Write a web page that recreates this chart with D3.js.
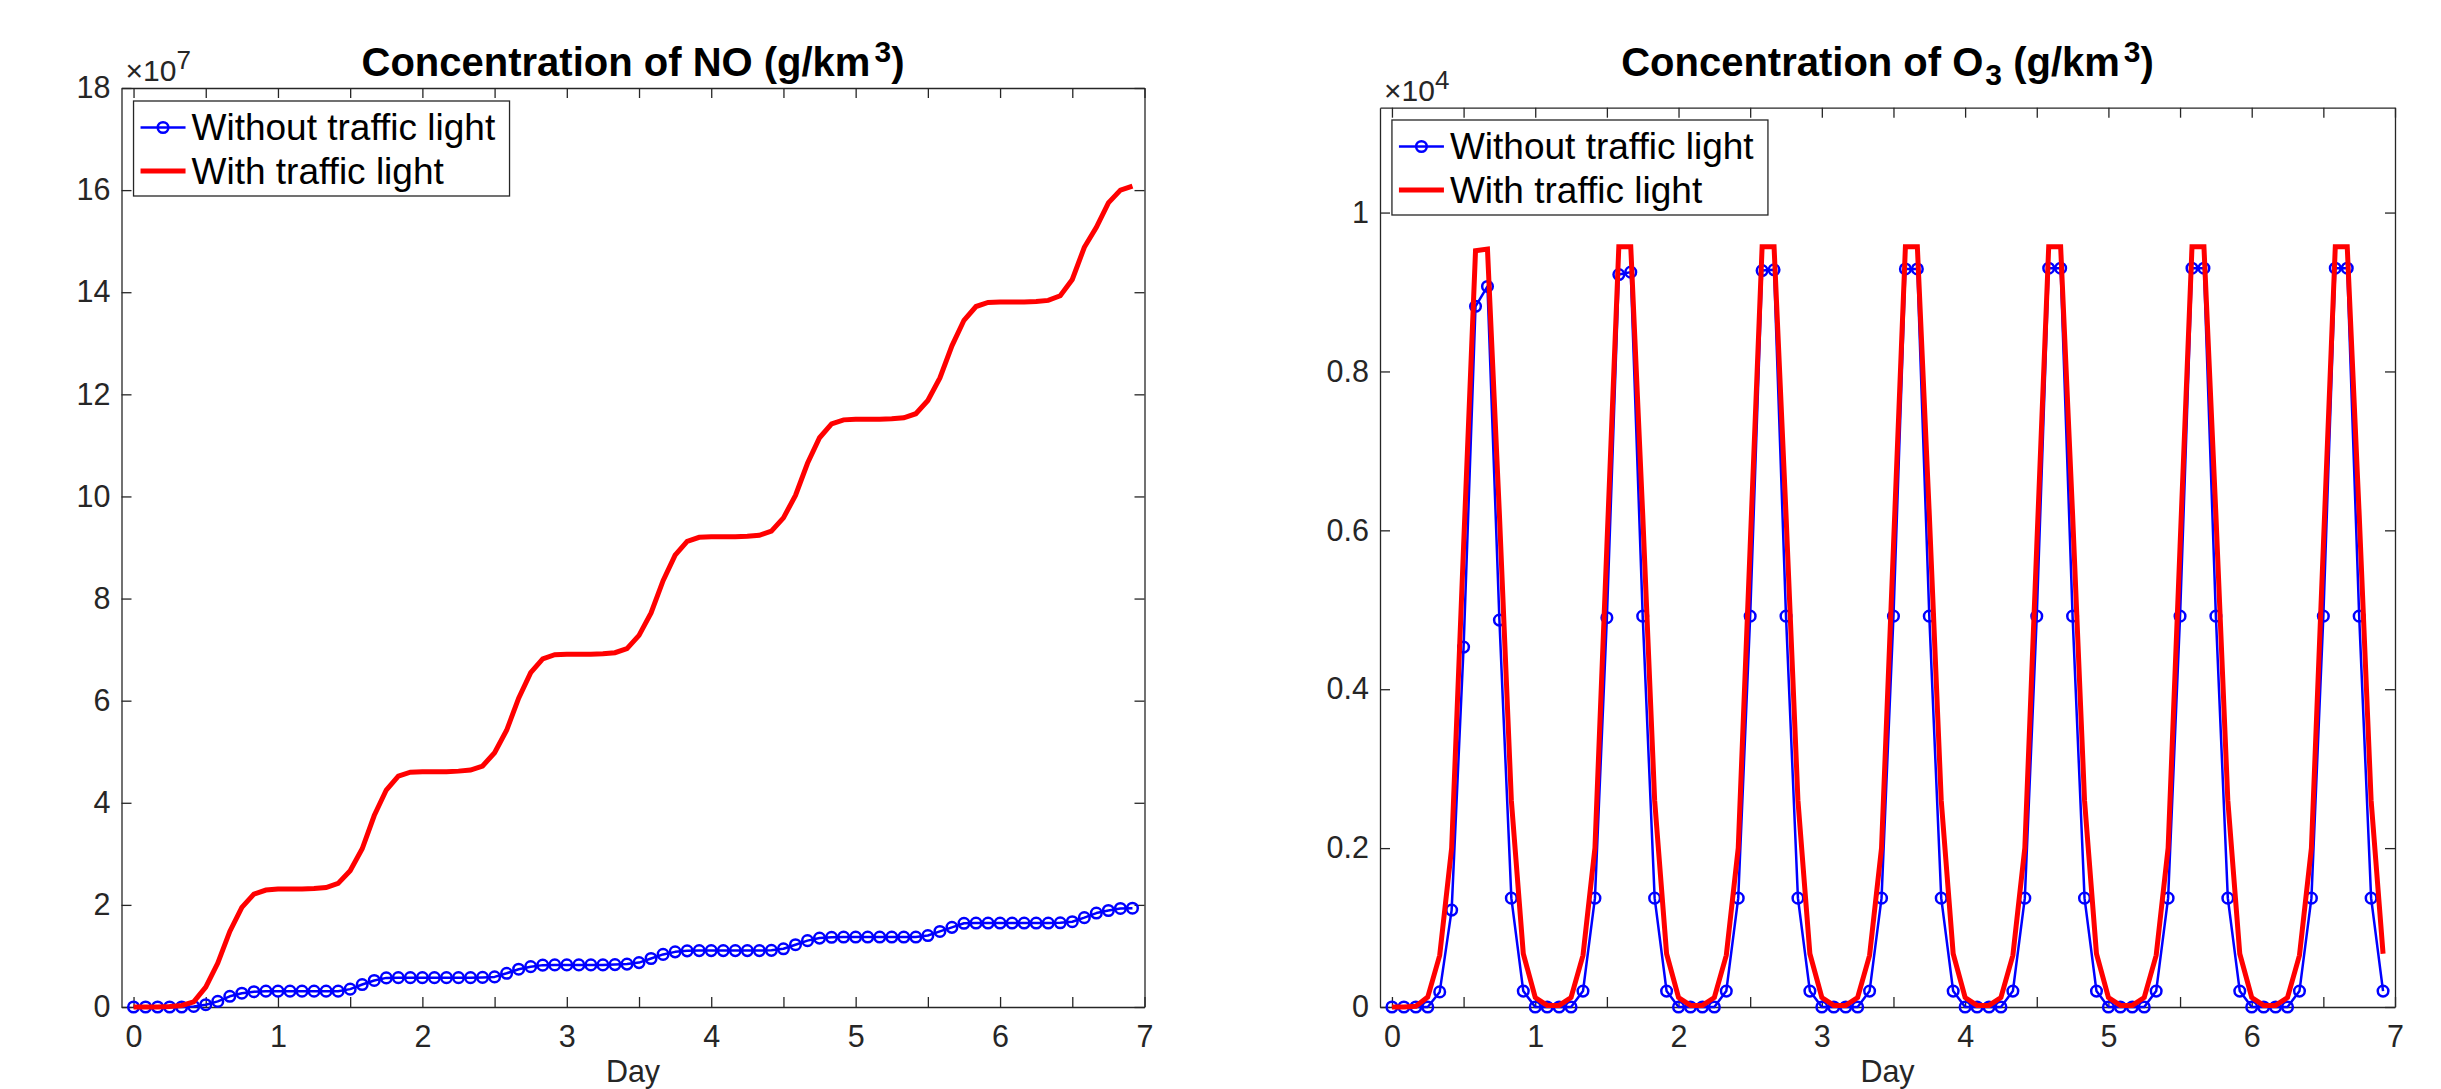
<!DOCTYPE html>
<html>
<head>
<meta charset="utf-8">
<script src="https://cdn.jsdelivr.net/npm/d3@7"></script>
<style>
  body { margin: 0; background: #fff; }
  svg { display: block; }
  text { font-family: "Liberation Sans", Arial, Helvetica, sans-serif; }
</style>
</head>
<body>
<svg id="chart" width="2441" height="1089"></svg>
<script>
// Sample times: one value every 2 hours over a week (in days)
const sampleTimes = d3.range(84).map(i => i / 12);

// NO concentration, units of 1e7 g/km^3
const noWithout = [
  0, 0, 0, 0, 0, 0.01, 0.045, 0.11, 0.21, 0.27, 0.30, 0.31,
  0.31, 0.31, 0.31, 0.31, 0.31, 0.31, 0.35, 0.44, 0.52, 0.57, 0.575, 0.575,
  0.575, 0.575, 0.575, 0.575, 0.575, 0.58, 0.59, 0.66, 0.74, 0.79, 0.82, 0.825,
  0.825, 0.825, 0.825, 0.825, 0.83, 0.84, 0.87, 0.95, 1.03, 1.08, 1.10, 1.105,
  1.105, 1.105, 1.105, 1.105, 1.105, 1.11, 1.14, 1.22, 1.30, 1.35, 1.365, 1.37,
  1.37, 1.37, 1.37, 1.37, 1.37, 1.37, 1.40, 1.48, 1.56, 1.64, 1.645, 1.645,
  1.645, 1.645, 1.645, 1.645, 1.645, 1.65, 1.67, 1.75, 1.84, 1.89, 1.93, 1.935
];
const noWith = [
  0, 0, 0, 0.01, 0.03, 0.10, 0.39, 0.86, 1.48, 1.95, 2.21, 2.29,
  2.31, 2.31, 2.31, 2.32, 2.34, 2.42, 2.67, 3.10, 3.75, 4.25, 4.52, 4.60,
  4.61, 4.61, 4.61, 4.62, 4.64, 4.72, 4.98, 5.42, 6.05, 6.55, 6.82, 6.90,
  6.91, 6.91, 6.91, 6.92, 6.94, 7.02, 7.28, 7.72, 8.35, 8.85, 9.12, 9.20,
  9.21, 9.21, 9.21, 9.22, 9.24, 9.32, 9.58, 10.02, 10.65, 11.15, 11.42, 11.50,
  11.51, 11.51, 11.51, 11.52, 11.54, 11.62, 11.88, 12.32, 12.95, 13.45, 13.72, 13.80,
  13.81, 13.81, 13.81, 13.82, 13.84, 13.93, 14.25, 14.88, 15.27, 15.75, 16.00, 16.08
];

// O3 concentration, units of 1e4 g/km^3
const o3Without = [
  0, 0, 0, 0, 0.019, 0.122, 0.453, 0.882, 0.907, 0.487, 0.137, 0.020,
  0, 0, 0, 0, 0.020, 0.137, 0.490, 0.922, 0.925, 0.492, 0.137, 0.020,
  0, 0, 0, 0, 0.020, 0.137, 0.492, 0.927, 0.928, 0.492, 0.137, 0.020,
  0, 0, 0, 0, 0.020, 0.137, 0.492, 0.929, 0.929, 0.492, 0.137, 0.020,
  0, 0, 0, 0, 0.020, 0.137, 0.492, 0.930, 0.930, 0.492, 0.137, 0.020,
  0, 0, 0, 0, 0.020, 0.137, 0.492, 0.930, 0.930, 0.492, 0.137, 0.020,
  0, 0, 0, 0, 0.020, 0.137, 0.492, 0.930, 0.930, 0.492, 0.137, 0.020
];
const o3With = [
  0, 0, 0.001, 0.0125, 0.065, 0.20, 0.58, 0.952, 0.954, 0.62, 0.26, 0.067,
  0.012, 0.002, 0.002, 0.012, 0.065, 0.20, 0.58, 0.957, 0.957, 0.62, 0.26, 0.067,
  0.012, 0.002, 0.002, 0.012, 0.065, 0.20, 0.58, 0.957, 0.957, 0.62, 0.26, 0.067,
  0.012, 0.002, 0.002, 0.012, 0.065, 0.20, 0.58, 0.957, 0.957, 0.62, 0.26, 0.067,
  0.012, 0.002, 0.002, 0.012, 0.065, 0.20, 0.58, 0.957, 0.957, 0.62, 0.26, 0.067,
  0.012, 0.002, 0.002, 0.012, 0.065, 0.20, 0.58, 0.957, 0.957, 0.62, 0.26, 0.067,
  0.012, 0.002, 0.002, 0.012, 0.065, 0.20, 0.58, 0.957, 0.957, 0.62, 0.26, 0.067
];

// Axis ticks and labels
const dayTicks = [0, 0.5, 1, 1.5, 2, 2.5, 3, 3.5, 4, 4.5, 5, 5.5, 6, 6.5, 7];
const noTicks = [0, 2, 4, 6, 8, 10, 12, 14, 16, 18];
const noTickLabels = ["0", "2", "4", "6", "8", "10", "12", "14", "16", "18"];
const o3Ticks = [0, 0.2, 0.4, 0.6, 0.8, 1];
const o3TickLabels = ["0", "0.2", "0.4", "0.6", "0.8", "1"];
const seriesNames = ["Without traffic light", "With traffic light"];

const BLUE = "#0000ff", RED = "#ff0000", AXIS = "#262626";
const svg = d3.select("#chart");

function drawPanel(cfg) {
  const g = svg.append("g");
  const x = d3.scaleLinear().domain([-1 / 12, 7]).range([cfg.left, cfg.right]);
  const y = d3.scaleLinear().domain([0, cfg.yMax]).range([cfg.bottom, cfg.top]);
  const intLabel = d => (Number.isInteger(d) ? String(d) : "");

  const axes = [
    g.append("g").attr("transform", `translate(0,${cfg.bottom})`)
      .call(d3.axisBottom(x).tickValues(dayTicks).tickSize(-10).tickSizeOuter(0)
        .tickPadding(18).tickFormat(intLabel)),
    g.append("g").attr("transform", `translate(0,${cfg.top})`)
      .call(d3.axisTop(x).tickValues(dayTicks).tickSize(-10).tickSizeOuter(0).tickFormat("")),
    g.append("g").attr("transform", `translate(${cfg.left},0)`)
      .call(d3.axisLeft(y).tickValues(cfg.yTicks).tickSize(-10).tickSizeOuter(0)
        .tickPadding(11).tickFormat((d, i) => cfg.yLabels[i])),
    g.append("g").attr("transform", `translate(${cfg.right},0)`)
      .call(d3.axisRight(y).tickValues(cfg.yTicks).tickSize(-10).tickSizeOuter(0).tickFormat(""))
  ];
  axes.forEach(a => {
    a.selectAll(".domain").attr("stroke", AXIS).attr("stroke-width", 1.3);
    a.selectAll(".tick line").attr("stroke", AXIS).attr("stroke-width", 1.3);
    a.selectAll(".tick text").attr("fill", AXIS).attr("font-size", 30.5)
      .attr("font-family", '"Liberation Sans", Arial, Helvetica, sans-serif');
  });

  // Exponent label above the y axis
  const ex = g.append("text").attr("x", cfg.left + 4).attr("y", cfg.top - 7)
    .attr("fill", AXIS).attr("font-size", 30);
  ex.append("tspan").text("\u00d710");
  ex.append("tspan").attr("dy", -12).attr("font-size", 26).text(cfg.exponent);

  // Title
  const t = g.append("text").attr("x", (cfg.left + cfg.right) / 2).attr("y", 76)
    .attr("text-anchor", "middle").attr("font-weight", "bold").attr("font-size", 40).attr("fill", "#000");
  cfg.title(t);

  // X label
  g.append("text").attr("x", (cfg.left + cfg.right) / 2).attr("y", 1082)
    .attr("text-anchor", "middle").attr("font-size", 30.5).attr("fill", AXIS).text("Day");

  const line = d3.line().x((d, i) => x(sampleTimes[i])).y(d => y(d));

  // Without traffic light: thin blue line with circle markers
  g.append("path").datum(cfg.without).attr("d", line)
    .attr("fill", "none").attr("stroke", BLUE).attr("stroke-width", 2.5)
    .attr("stroke-linejoin", "round");
  g.append("g").selectAll("circle").data(cfg.without).join("circle")
    .attr("cx", (d, i) => x(sampleTimes[i])).attr("cy", d => y(d)).attr("r", 5.3)
    .attr("fill", "none").attr("stroke", BLUE).attr("stroke-width", 2.5);

  // With traffic light: thick red line
  g.append("path").datum(cfg.with).attr("d", line)
    .attr("fill", "none").attr("stroke", RED).attr("stroke-width", 5)
    .attr("stroke-linejoin", "miter").attr("stroke-miterlimit", 2);

  // Legend
  const lx = x(0), ly = cfg.legendTop;
  const lg = g.append("g").attr("transform", `translate(${lx},${ly})`);
  lg.append("rect").attr("width", 376).attr("height", 95)
    .attr("fill", "#fff").attr("stroke", AXIS).attr("stroke-width", 1.3);
  lg.append("line").attr("x1", 7).attr("x2", 52).attr("y1", 26.5).attr("y2", 26.5)
    .attr("stroke", BLUE).attr("stroke-width", 2.5);
  lg.append("circle").attr("cx", 29.5).attr("cy", 26.5).attr("r", 5.3)
    .attr("fill", "none").attr("stroke", BLUE).attr("stroke-width", 2.5);
  lg.append("line").attr("x1", 7).attr("x2", 52).attr("y1", 70).attr("y2", 70)
    .attr("stroke", RED).attr("stroke-width", 5);
  lg.selectAll("text.entry").data(seriesNames).join("text").attr("class", "entry")
    .attr("x", 58).attr("y", (d, i) => 39 + i * 44).attr("font-size", 37).attr("fill", "#000")
    .text(d => d);
}

drawPanel({
  left: 121.5, right: 1144.5, top: 88, bottom: 1007, yMax: 18,
  yTicks: noTicks, yLabels: noTickLabels, exponent: "7", legendTop: 101,
  without: noWithout, with: noWith,
  title: t => {
    t.append("tspan").text("Concentration of NO (g/km");
    t.append("tspan").attr("dx", 4).attr("dy", -14).attr("font-size", 30).text("3");
    t.append("tspan").attr("dy", 14).text(")");
  }
});

drawPanel({
  left: 1380, right: 2395, top: 107.7, bottom: 1007, yMax: 1.132,
  yTicks: o3Ticks, yLabels: o3TickLabels, exponent: "4", legendTop: 120,
  without: o3Without, with: o3With,
  title: t => {
    t.append("tspan").text("Concentration of O");
    t.append("tspan").attr("dx", 2).attr("dy", 9).attr("font-size", 30).text("3");
    t.append("tspan").attr("dy", -9).text(" (g/km");
    t.append("tspan").attr("dx", 4).attr("dy", -14).attr("font-size", 30).text("3");
    t.append("tspan").attr("dy", 14).text(")");
  }
});
</script>
</body>
</html>
